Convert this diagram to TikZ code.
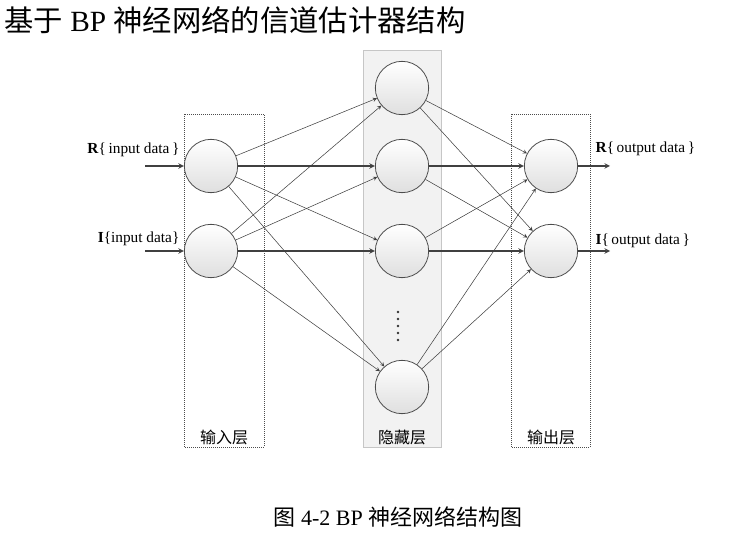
\documentclass[tikz,border=0pt]{standalone}
\usepackage{fontspec}
\setmainfont{Liberation Serif}
\newfontfamily\cjk{Noto Sans CJK SC}
\usetikzlibrary{arrows,positioning}

\begin{document}
\begin{tikzpicture}[x=0.75pt, y=-0.75pt,
    neuron/.style={circle, draw=black!70, line width=0.6pt, minimum size=40pt, inner sep=0pt, top color=white, bottom color=gray!25},
    link/.style={->, >=stealth, draw=black!75, line width=0.4pt},
    heavy/.style={link, line width=0.85pt},
    layerbox/.style={draw=black!70, densely dotted, line width=0.5pt},
    tag/.style={font=\fontsize{11.5}{13}\selectfont, inner sep=1pt},
    layername/.style={font=\cjk\fontsize{12}{14}\selectfont, inner sep=1pt}
]
    \useasboundingbox (0,0) rectangle (754,552);

    % Title and caption
    \node[anchor=west, font=\fontsize{22}{26}\selectfont, inner sep=0pt] (title) at (4,20) {{\cjk 基于} BP {\cjk 神经网络的信道估计器结构}};
    \node[font=\fontsize{16.5}{19}\selectfont] (caption) at (398,517) {{\cjk 图} 4-2 BP {\cjk 神经网络结构图}};

    % Layer frames
    \draw[layerbox] (184,114) rectangle (264,447);
    \draw[fill=gray!10, draw=gray!45, line width=0.5pt] (363,50) rectangle (441,447);
    \draw[layerbox] (511,114) rectangle (590,447);
    \node[layername] (inname) at (224,437) {输入层};
    \node[layername] (hidname) at (402,437) {隐藏层};
    \node[layername] (outname) at (551,437) {输出层};

    % Neurons
    \node[neuron] (i1) at (211,166) {};
    \node[neuron] (i2) at (211,251) {};
    \foreach \n/\y in {1/88,2/166,3/251,4/387}
        \node[neuron] (h\n) at (402,\y) {};
    \node[neuron] (o1) at (551,166) {};
    \node[neuron] (o2) at (551,251) {};

    % Dots between hidden neurons
    \foreach \y in {312,319,326,333,340}
        \fill[black!80] (398,\y) circle (1.4);

    % Inputs and outputs
    \coordinate (rin) at (145,166);
    \coordinate (iin) at (145,251);
    \coordinate (rout) at (610,166);
    \coordinate (iout) at (610,251);
    \draw[heavy] (rin) -- (i1);
    \draw[heavy] (iin) -- (i2);
    \draw[heavy] (o1) -- (rout);
    \draw[heavy] (o2) -- (iout);
    \node[tag, anchor=east] (rinlabel) at (181,150) {\textbf{R}\{\,input data\,\}};
    \node[tag, anchor=east] (iinlabel) at (181,239) {\textbf{I}\{input data\}};
    \node[tag, anchor=west] (routlabel) at (594,149) {\textbf{R}\{\,output data\,\}};
    \node[tag, anchor=west] (ioutlabel) at (594,241) {\textbf{I}\{\,output data\,\}};

    % Full connections
    \foreach \i in {1,2}
        \foreach \j in {1,...,4}{
            \pgfmathtruncatemacro\hz{\j==\i+1}
            \ifnum\hz=1 \draw[heavy] (i\i) -- (h\j); \else \draw[link] (i\i) -- (h\j); \fi
        }
    \foreach \j in {1,...,4}
        \foreach \k in {1,2}{
            \pgfmathtruncatemacro\hz{\j==\k+1}
            \ifnum\hz=1 \draw[heavy] (h\j) -- (o\k); \else \draw[link] (h\j) -- (o\k); \fi
        }
\end{tikzpicture}
\end{document}
